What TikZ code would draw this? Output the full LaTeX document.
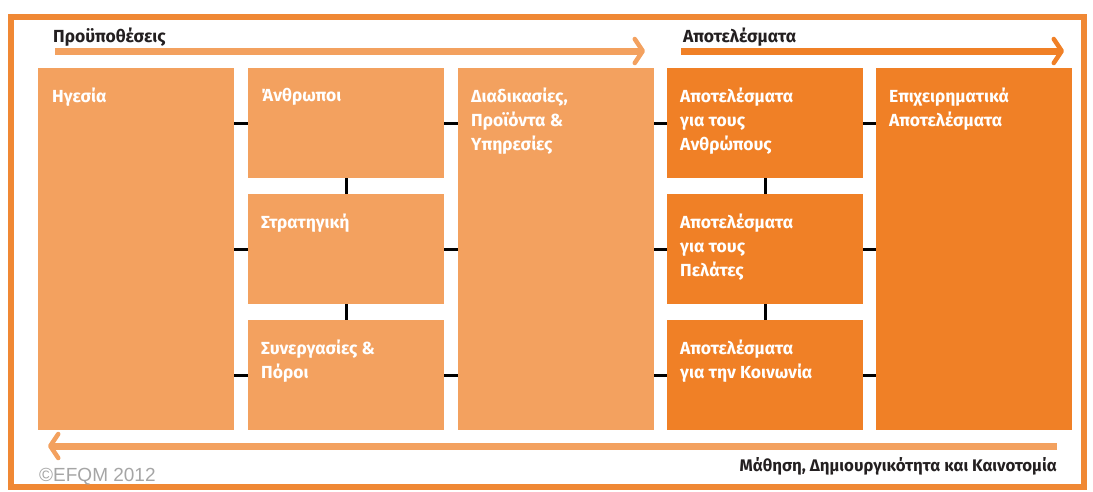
\documentclass[tikz,border=0pt]{standalone}
\usepackage{fontspec}
\setmainfont{Fira Sans}
\newfontfamily\crfont{Liberation Sans}
\usetikzlibrary{arrows.meta}

\definecolor{lightor}{RGB}{243,161,95}
\definecolor{darkor}{RGB}{240,128,38}
\definecolor{frameor}{RGB}{240,136,52}
\definecolor{titletxt}{RGB}{35,31,32}
\definecolor{crgray}{RGB}{165,165,165}

\begin{document}
\begin{tikzpicture}[x=1pt,y=-1pt,
  lbox/.style={fill=lightor, anchor=north west, minimum width=196pt, inner sep=0pt},
  dbox/.style={fill=darkor, anchor=north west, minimum width=196pt, inner sep=0pt},
  boxtext/.style={anchor=north west, align=left, inner sep=0pt, text=white, font=\bfseries\fontsize{17.5}{24}\selectfont},
  tick/.style={line width=3pt, black},
  flow/.style={line width=7pt, -{Straight Barb[length=8pt,width=24pt,line width=4.5pt,round]}},
  title/.style={font=\bfseries\fontsize{17.5}{20}\selectfont, text=titletxt, inner sep=0pt}]

\useasboundingbox (0,0) rectangle (1093,491);
\draw[frameor, line width=6pt] (11,17) rectangle (1084,487);

% enablers
\node[lbox, minimum height=362pt] (hg) at (38,68) {};
\node[lbox, minimum height=110pt] (an) at (248,68) {};
\node[lbox, minimum height=110pt] (st) at (248,194) {};
\node[lbox, minimum height=110pt] (sy) at (248,320) {};
\node[lbox, minimum height=362pt] (dd) at (458,68) {};
% results
\node[dbox, minimum height=110pt] (ra) at (667,68) {};
\node[dbox, minimum height=110pt] (rc) at (667,194) {};
\node[dbox, minimum height=110pt] (rs) at (667,320) {};
\node[dbox, minimum height=362pt] (ep) at (876,68) {};

\node[boxtext] (hg-t) at ([shift={(14,20)}]hg.north west) {Ηγεσία};
\node[boxtext] (an-t) at ([shift={(13,20)}]an.north west) {Άνθρωποι};
\node[boxtext] (st-t) at ([shift={(13,20)}]st.north west) {Στρατηγική};
\node[boxtext] (sy-t) at ([shift={(13,20)}]sy.north west) {Συνεργασίες \&\\Πόροι};
\node[boxtext] (dd-t) at ([shift={(13,20)}]dd.north west) {Διαδικασίες,\\Προϊόντα \&\\Υπηρεσίες};
\node[boxtext] (ra-t) at ([shift={(13,20)}]ra.north west) {Αποτελέσματα\\για τους\\Ανθρώπους};
\node[boxtext] (rc-t) at ([shift={(13,20)}]rc.north west) {Αποτελέσματα\\για τους\\Πελάτες};
\node[boxtext] (rs-t) at ([shift={(13,20)}]rs.north west) {Αποτελέσματα\\για την Κοινωνία};
\node[boxtext] (ep-t) at ([shift={(13,20)}]ep.north west) {Επιχειρηματικά\\Αποτελέσματα};

% ticks
\draw[tick] (hg.east |- an.west) -- (an.west);
\draw[tick] (hg.east |- st.west) -- (st.west);
\draw[tick] (hg.east |- sy.west) -- (sy.west);
\draw[tick] (an.east) -- (an.east -| dd.west);
\draw[tick] (st.east) -- (st.east -| dd.west);
\draw[tick] (sy.east) -- (sy.east -| dd.west);
\draw[tick] (dd.east |- ra.west) -- (ra.west);
\draw[tick] (dd.east |- rc.west) -- (rc.west);
\draw[tick] (dd.east |- rs.west) -- (rs.west);
\draw[tick] (ra.east) -- (ra.east -| ep.west);
\draw[tick] (rc.east) -- (rc.east -| ep.west);
\draw[tick] (rs.east) -- (rs.east -| ep.west);
\draw[tick] (an.south) -- (st.north);
\draw[tick] (st.south) -- (sy.north);
\draw[tick] (ra.south) -- (rc.north);
\draw[tick] (rc.south) -- (rs.north);

% flows
\coordinate (en-a) at (55,51);
\coordinate (en-b) at (645,51);
\coordinate (re-a) at (681,51);
\coordinate (re-b) at (1064,51);
\coordinate (lc-a) at (1057,446);
\coordinate (lc-b) at (48,446);
\draw[flow, lightor] (en-a) -- (en-b);
\draw[flow, darkor] (re-a) -- (re-b);
\draw[flow, lightor] (lc-a) -- (lc-b);

\node[title, anchor=west] (en-l) at (53,37) {Προϋποθέσεις};
\node[title, anchor=west] (re-l) at (683,37) {Αποτελέσματα};
\node[title, anchor=east, font=\bfseries\fontsize{16.8}{20}\selectfont] (lc-l) at (1057,466) {Μάθηση, Δημιουργικότητα και Καινοτομία};
\node[anchor=west, inner sep=0pt, text=crgray, font=\crfont\fontsize{19}{22}\selectfont] (cr) at (39,477) {©EFQM 2012};
\end{tikzpicture}
\end{document}
